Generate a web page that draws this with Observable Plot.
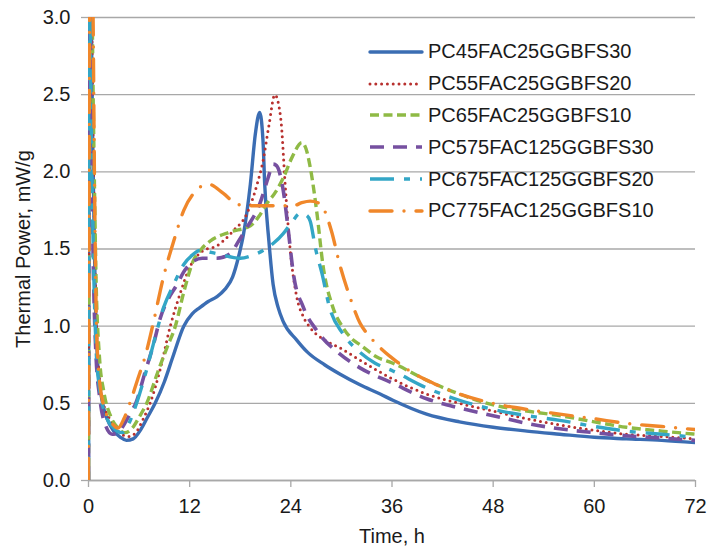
<!DOCTYPE html>
<html>
<head>
<meta charset="utf-8">
<script src="https://cdn.jsdelivr.net/npm/d3@7"></script>
<script src="https://cdn.jsdelivr.net/npm/@observablehq/plot@0.6"></script>
<style>
  html, body { margin: 0; padding: 0; background: #fff; }
  #wrap { position: relative; width: 710px; height: 547px; font-family: "Liberation Sans", Arial, sans-serif; color: #1a1a1a; }
  #legend { position: absolute; left: 367px; top: 36px; font-size: 20px; }
  .row { display: flex; align-items: center; height: 31.8px; }
  .row svg { width: 58px; height: 12px; margin-right: 3px; }
</style>
</head>
<body>
<div id="wrap"><div id="legend"></div></div>
<script>
// ---- data ----
const seriesNames = ["PC45FAC25GGBFS30", "PC55FAC25GGBFS20", "PC65FAC25GGBFS10",
                     "PC575FAC125GGBFS30", "PC675FAC125GGBFS20", "PC775FAC125GGBFS10"];

const s1t = [0,0.15,0.5,0.8,1.1,1.6,2.2,3,3.8,4.5,5.3,6.2,7,7.9,9,10,11.3,12.3,13.2,14.2,15.2,16.2,17.1,17.8,18.4,19.2,19.8,20.3,20.7,20.9,21.4,21.9,22.5,23.1,24.7,26,28,29.8,32.2,34.6,36.1,40.1,44,48,52,55.9,60,63.8,68,72];
const s1v = [0,3.6,2.2,1.2,0.75,0.52,0.40,0.32,0.28,0.26,0.27,0.33,0.41,0.50,0.64,0.80,1.0,1.08,1.12,1.16,1.19,1.24,1.32,1.45,1.60,1.92,2.25,2.385,2.2,1.92,1.55,1.27,1.12,1.03,0.91,0.83,0.75,0.69,0.62,0.56,0.52,0.43,0.38,0.345,0.32,0.30,0.28,0.27,0.26,0.245];

const s2t = [0,0.2,0.55,0.85,1.2,1.7,2.5,3.5,4.8,5.6,6.5,7.3,8.5,9.7,10.8,12,13.6,15.2,17.2,18.8,20,20.7,21.4,22.1,22.5,22.9,23.3,23.9,24.7,25.5,26.3,28,29.8,32.2,36,40.1,44,48,52,55.9,60,63.8,68,72];
const s2v = [0,3.6,2.2,1.2,0.72,0.52,0.40,0.32,0.285,0.31,0.40,0.50,0.72,1.0,1.2,1.38,1.49,1.52,1.62,1.73,1.92,2.07,2.3,2.50,2.45,2.29,1.94,1.51,1.19,1.06,0.99,0.91,0.86,0.78,0.66,0.56,0.50,0.45,0.40,0.36,0.325,0.30,0.285,0.27];

const s3t = [0,0.25,0.6,0.9,1.3,1.8,2.6,3.5,4.3,5.2,6,6.9,8.2,9.3,10.3,11.3,12.4,13.4,14.4,16.8,19.2,20.2,21.1,22.2,23.1,24.2,25.3,25.8,26.3,27.1,27.8,29,30.2,31.4,32.2,34.2,36.1,40.1,44,48,52,55.9,60,63.8,68,72];
const s3v = [0,3.6,2.3,1.3,0.8,0.58,0.42,0.34,0.31,0.34,0.41,0.50,0.70,0.86,1.0,1.22,1.42,1.50,1.55,1.61,1.65,1.71,1.79,1.87,1.96,2.10,2.19,2.15,2.03,1.73,1.40,1.12,0.99,0.91,0.88,0.80,0.76,0.65,0.56,0.49,0.45,0.42,0.38,0.345,0.32,0.30];

const s4t = [0,0.1,0.35,0.6,0.9,1.3,2,2.8,3.5,4.3,5,5.6,6.7,7.7,8.5,9.5,10.5,11.4,12.4,13.5,15.2,16.8,17.8,18.8,20.3,21.3,21.9,22.3,23.1,23.7,24.3,25.5,27.1,29.8,32.2,36.1,40.1,44,48,52,55.9,60,63.8,68,72];
const s4v = [0,3.6,2.2,1.3,0.8,0.55,0.36,0.30,0.31,0.37,0.44,0.50,0.70,0.88,1.05,1.18,1.27,1.36,1.42,1.44,1.44,1.47,1.55,1.64,1.79,1.96,2.05,2.04,1.88,1.62,1.34,1.12,0.97,0.82,0.73,0.63,0.53,0.47,0.42,0.37,0.335,0.31,0.29,0.275,0.26];

const s5t = [0,0.05,0.3,0.6,0.9,1.3,2,3,4,4.7,5.7,6.7,7.7,8.9,10.1,11.3,12.3,13.2,15.2,18,19.5,20.7,22,23.1,24.2,25.1,25.8,26.3,26.9,27.7,28.6,30.2,32.2,34,36.1,40.1,44,48,52,55.9,60,63.8,68,72];
const s5v = [0,3.6,2.4,1.4,0.85,0.6,0.43,0.34,0.31,0.36,0.50,0.68,0.885,1.12,1.27,1.40,1.46,1.49,1.47,1.44,1.46,1.49,1.54,1.60,1.68,1.73,1.72,1.68,1.51,1.34,1.12,0.95,0.83,0.76,0.71,0.60,0.52,0.46,0.42,0.39,0.35,0.32,0.30,0.28];

const s6t = [0,0.2,0.5,0.7,0.95,1.3,2,2.8,3.5,4.2,4.9,5.8,6.7,7.6,8.9,10.1,11.3,12.8,14.2,16,17.6,19,20.3,22.3,24.3,25.3,26.3,27.2,27.8,28.8,29.8,31,32.2,33.4,34.6,36.1,38.1,40.9,44,48,52,55.9,60,63.8,68,72];
const s6v = [0,3.6,3.2,2.0,1.0,0.65,0.45,0.37,0.34,0.40,0.50,0.65,0.80,1.0,1.32,1.55,1.75,1.88,1.92,1.86,1.79,1.78,1.78,1.78,1.78,1.80,1.81,1.80,1.77,1.62,1.40,1.19,1.02,0.93,0.86,0.79,0.71,0.63,0.56,0.50,0.46,0.43,0.40,0.37,0.35,0.33];

const xTicks = [0, 12, 24, 36, 48, 60, 72];
const yTicks = [0, 0.5, 1.0, 1.5, 2.0, 2.5, 3.0];
const xTitle = "Time, h";
const yTitle = "Thermal Power, mW/g";

// ---- styles ----
const colors = ["#3b6db3", "#b8312f", "#8fba45", "#7650a0", "#33a6c6", "#f0872a"];
const dashes = ["none", "0 5.8", "9 4.5", "14 9", "24 10 6 10", "22 12 0 12"];
const caps   = ["round", "round", "butt", "butt", "butt", "round"];
const widths = [3.4, 3.0, 3.4, 3.6, 3.4, 3.4];

const times = [s1t, s2t, s3t, s4t, s5t, s6t];
const vals  = [s1v, s2v, s3v, s4v, s5v, s6v];
const rows = seriesNames.map((name, i) => times[i].map((t, j) => ({series: name, t, v: vals[i][j]})));

const marks = [
  Plot.gridY(yTicks, {stroke: "#a8a8a8", strokeOpacity: 1, strokeWidth: 1.3}),
  Plot.axisY(yTicks, {tickSize: 7, tickPadding: 11, stroke: "#a8a8a8", strokeWidth: 1.3, fill: "#1a1a1a",
    tickFormat: d3.format(".1f"), label: yTitle, labelArrow: "none", labelAnchor: "center", labelOffset: 73}),
  Plot.axisX(xTicks, {tickSize: 7, tickPadding: 11, stroke: "#a8a8a8", strokeWidth: 1.3, fill: "#1a1a1a",
    label: xTitle, labelArrow: "none", labelAnchor: "center", labelOffset: 62}),
  Plot.ruleY([0], {stroke: "#a8a8a8", strokeWidth: 1.3})
];
rows.forEach((r, i) => {
  marks.push(Plot.line(r, {x: "t", y: "v", stroke: colors[i], strokeWidth: widths[i],
    strokeDasharray: dashes[i], strokeLinecap: caps[i], curve: "monotone-x", clip: true}));
});

const chart = Plot.plot({
  width: 710, height: 547,
  marginLeft: 88, marginRight: 15, marginTop: 17, marginBottom: 67,
  x: {domain: [0, 72]},
  y: {domain: [0, 3]},
  style: {fontSize: "20px", fontFamily: "'Liberation Sans', Arial, sans-serif", color: "#1a1a1a", background: "white"},
  marks
});
const wrap = document.getElementById("wrap");
wrap.insertBefore(chart, wrap.firstChild);

// ---- legend ----
const legend = document.getElementById("legend");
seriesNames.forEach((name, i) => {
  const row = document.createElement("div");
  row.className = "row";
  const ns = "http://www.w3.org/2000/svg";
  const svg = document.createElementNS(ns, "svg");
  const ln = document.createElementNS(ns, "line");
  ln.setAttribute("x1", 3); ln.setAttribute("x2", 55); ln.setAttribute("y1", 6); ln.setAttribute("y2", 6);
  ln.setAttribute("stroke", colors[i]); ln.setAttribute("stroke-width", widths[i]);
  if (dashes[i] !== "none") ln.setAttribute("stroke-dasharray", dashes[i]);
  ln.setAttribute("stroke-linecap", caps[i]);
  svg.appendChild(ln);
  const txt = document.createElement("span");
  txt.textContent = name;
  row.appendChild(svg); row.appendChild(txt);
  legend.appendChild(row);
});
</script>
</body>
</html>
